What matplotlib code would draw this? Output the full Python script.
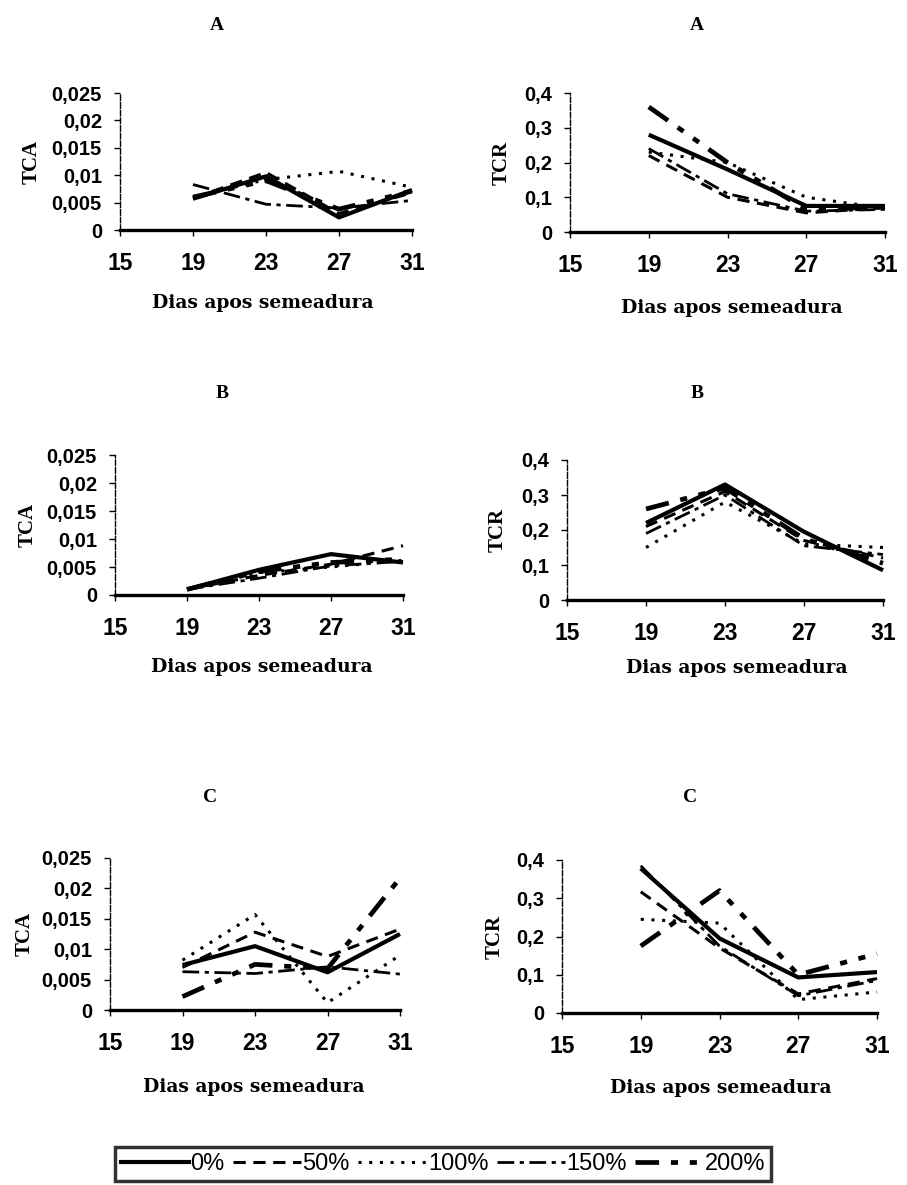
import matplotlib
matplotlib.use("Agg")
import matplotlib.pyplot as plt
from matplotlib.lines import Line2D

days = [19, 23, 27, 31]
xticks = [15, 19, 23, 27, 31]
doses = ["0%", "50%", "100%", "150%", "200%"]
xlabel = "Dias apos semeadura"

tca_ticks = [0, 0.005, 0.01, 0.015, 0.02, 0.025]
tca_labels = ["0", "0,005", "0,01", "0,015", "0,02", "0,025"]
tcr_ticks = [0, 0.1, 0.2, 0.3, 0.4]
tcr_labels = ["0", "0,1", "0,2", "0,3", "0,4"]

# rows follow the dose order: 0%, 50%, 100%, 150%, 200%
tca_a = [
    [0.0057, 0.0098, 0.0023, 0.0073],
    [0.0058, 0.0105, 0.0030, 0.0068],
    [0.0060, 0.0092, 0.0107, 0.0078],
    [0.0083, 0.0047, 0.0040, 0.0054],
    [0.0060, 0.0090, 0.0038, 0.0071],
]
tcr_a = [
    [0.28, 0.18, 0.075, 0.075],
    [0.22, 0.10, 0.055, 0.070],
    [0.23, 0.20, 0.100, 0.068],
    [0.24, 0.11, 0.060, 0.065],
    [0.36, 0.20, 0.065, 0.072],
]
tca_b = [
    [0.0010, 0.0045, 0.0073, 0.0058],
    [0.0010, 0.0035, 0.0055, 0.0088],
    [0.0010, 0.0040, 0.0050, 0.0062],
    [0.0010, 0.0030, 0.0052, 0.0060],
    [0.0010, 0.0042, 0.0058, 0.0064],
]
tcr_b = [
    [0.22, 0.33, 0.195, 0.085],
    [0.21, 0.31, 0.170, 0.120],
    [0.15, 0.28, 0.160, 0.150],
    [0.19, 0.30, 0.155, 0.130],
    [0.26, 0.32, 0.175, 0.105],
]
tca_c = [
    [0.0074, 0.0105, 0.0062, 0.0125],
    [0.0070, 0.0128, 0.0088, 0.0133],
    [0.0082, 0.0157, 0.0012, 0.0090],
    [0.0063, 0.0060, 0.0071, 0.0059],
    [0.0022, 0.0075, 0.0068, 0.0217],
]
tcr_c = [
    [0.378, 0.195, 0.093, 0.107],
    [0.317, 0.170, 0.050, 0.090],
    [0.245, 0.235, 0.035, 0.055],
    [0.385, 0.175, 0.045, 0.085],
    [0.175, 0.320, 0.100, 0.155],
]

# line look for each dose
styles = [
    dict(linestyle="-", linewidth=3.0),
    dict(linestyle=(0, (4, 2.5)), linewidth=2.2),
    dict(linestyle=(0, (1, 2.5)), linewidth=2.2),
    dict(linestyle=(0, (6, 2, 1.5, 2)), linewidth=2.0),
    dict(linestyle=(0, (5, 2.5, 1.5, 2.5, 1.5, 2.5)), linewidth=3.4),
]

W, H = 907, 1185
fig = plt.figure(figsize=(W / 100, H / 100), dpi=100)
fig.patch.set_facecolor("white")


def fx(px):
    return px / W


def fy(py):
    return 1 - py / H


serif = "Liberation Serif"
wide_serif = "DejaVu Serif"
sans = "Liberation Sans"

panels = [
    # letter, series, ylabel, ticks, tick labels, ymax, (l, t, r, b), title xy, xlabel xy, ylabel x
    ("A", tca_a, "TCA", tca_ticks, tca_labels, 0.025, (120, 93, 412, 230), (217, 26), (263, 303), 32),
    ("A", tcr_a, "TCR", tcr_ticks, tcr_labels, 0.4, (570, 93, 885, 232), (697, 26), (732, 308), 502),
    ("B", tca_b, "TCA", tca_ticks, tca_labels, 0.025, (115, 455, 403, 595), (222, 393), (262, 667), 28),
    ("B", tcr_b, "TCR", tcr_ticks, tcr_labels, 0.4, (567, 460, 883, 600), (697, 393), (737, 668), 498),
    ("C", tca_c, "TCA", tca_ticks, tca_labels, 0.025, (110, 858, 400, 1010), (210, 797), (254, 1087), 25),
    ("C", tcr_c, "TCR", tcr_ticks, tcr_labels, 0.4, (562, 860, 877, 1013), (690, 797), (721, 1088), 495),
]

for letter, series, ylab, yt, ytl, ymax, (l, t, r, b), tpos, xpos, ylx in panels:
    ax = fig.add_axes([fx(l), fy(b), fx(r - l), (b - t) / H])
    for vals, st in zip(series, styles):
        ax.plot(days, vals, color="black", solid_capstyle="butt",
                dash_capstyle="butt", clip_on=False, **st)
    ax.set_xlim(15, 31)
    ax.set_ylim(0, ymax)
    ax.set_xticks(xticks)
    ax.set_xticklabels([str(v) for v in xticks], fontfamily=sans,
                       fontweight="bold", fontsize=16.5)
    ax.set_yticks(yt)
    ax.set_yticklabels(ytl, fontfamily=sans, fontweight="bold", fontsize=14.5)
    ax.tick_params(axis="x", direction="out", length=4, width=1, pad=12)
    ax.tick_params(axis="y", direction="out", length=4, width=1, pad=9)
    for side in ("top", "right"):
        ax.spines[side].set_visible(False)
    ax.spines["bottom"].set_linewidth(2.4)
    ax.spines["left"].set_linewidth(1.0)
    ax.spines["left"].set_linestyle((0, (4, 1.5)))

    fig.text(fx(tpos[0]), fy(tpos[1]), letter, ha="center", va="center",
             fontfamily=serif, fontweight="bold", fontsize=14)
    fig.text(fx(xpos[0]), fy(xpos[1]), xlabel, ha="center", va="center",
             fontfamily=wide_serif, fontweight="bold", fontsize=13.5)
    fig.text(fx(ylx), fy((t + b) / 2), ylab, ha="center", va="center",
             rotation=90, fontfamily=serif, fontweight="bold", fontsize=15)

handles = [Line2D([0], [0], color="black", **st) for st in styles]
leg = fig.legend(handles, doses, loc="center", ncol=5,
                 bbox_to_anchor=(fx(443), fy(1164)),
                 prop={"family": sans, "size": 17},
                 frameon=True, fancybox=False, edgecolor="black",
                 handlelength=2.9, handletextpad=0.05, columnspacing=0.35,
                 borderpad=0.25, borderaxespad=0)
leg.get_frame().set_linewidth(2.5)

fig.savefig("out.png", dpi=100, facecolor="white")
